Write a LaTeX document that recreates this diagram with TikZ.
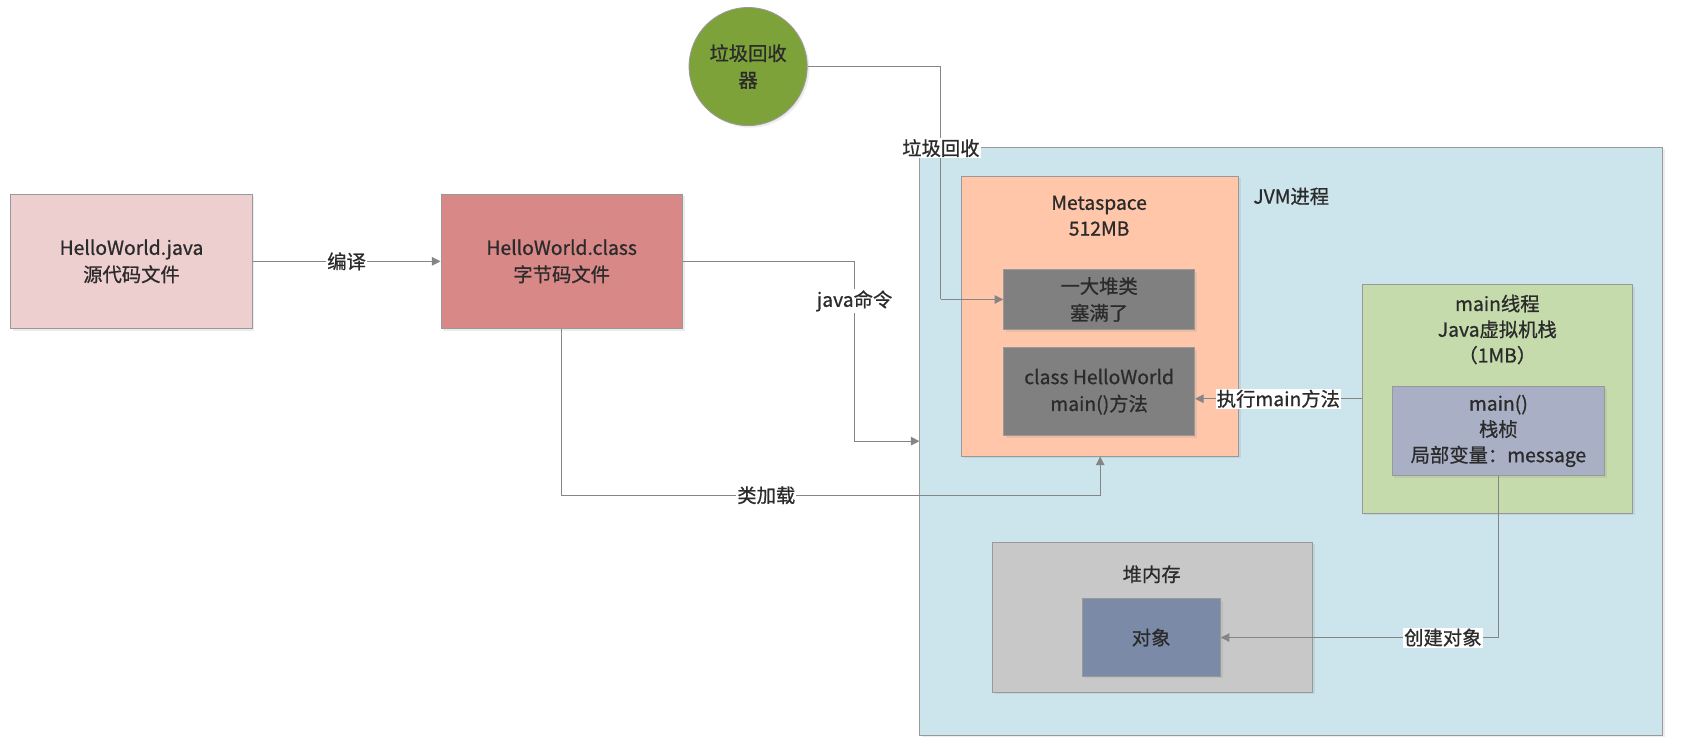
\documentclass[tikz,border=0pt]{standalone}
\usepackage{fontspec}
\setmainfont{Noto Sans CJK SC}[FakeBold=0.8]
\usetikzlibrary{positioning, arrows.meta, shadows}

\definecolor{txt}{HTML}{2B2B2B}
\definecolor{edge}{HTML}{999999}
\definecolor{wire}{HTML}{858585}
\definecolor{javafill}{HTML}{EECFCF}
\definecolor{classfill}{HTML}{D98888}
\definecolor{gcfill}{HTML}{7EA23A}
\definecolor{jvmfill}{HTML}{CCE4EB}
\definecolor{metafill}{HTML}{FFC6AA}
\definecolor{darkfill}{HTML}{808080}
\definecolor{threadfill}{HTML}{C5DBAB}
\definecolor{framefill}{HTML}{A9AFC4}
\definecolor{heapfill}{HTML}{C8C8C8}
\definecolor{objfill}{HTML}{7B8AA6}

\begin{document}
\begin{tikzpicture}[x=1pt, y=-1pt,
  box/.style={draw=edge, line width=0.8pt, rectangle, align=center, text=txt, font=\fontsize{18}{25}\selectfont,
    drop shadow={shadow xshift=2pt, shadow yshift=-2pt, opacity=0.15}},
  title/.style={align=center, text=txt, font=\fontsize{18}{24}\selectfont},
  lbl/.style={fill=white, inner sep=1pt, text=txt, font=\fontsize{18}{24}\selectfont},
  arr/.style={draw=wire, line width=0.9pt, -{Triangle[width=8pt, length=8pt]}},
  wireline/.style={draw=wire, line width=0.9pt}]

  \useasboundingbox (0,0) rectangle (1568,692);

  % Nodes
  \node (java) [box, fill=javafill, minimum width=225, minimum height=125] at (122.5,243.5) {HelloWorld.java\\源代码文件};
  \node (class) [box, fill=classfill, minimum width=225, minimum height=125, right=175pt of java] {HelloWorld.class\\字节码文件};
  \node (gc) [box, circle, fill=gcfill, minimum size=110] at (697,62) {垃圾回收\\器};

  \node (jvm) [box, fill=jvmfill, minimum width=692, minimum height=548] at (1203,411) {};
  \node (jvmtitle) [title] at (1203,183) {JVM进程};

  \node (meta) [box, fill=metafill, minimum width=258, minimum height=261] at (1025,294.5) {};
  \node (metatitle) [title] at (1024,201) {Metaspace\\512MB};
  \node (classes) [box, fill=darkfill, minimum width=178, minimum height=56] at (1024,279) {一大堆类\\塞满了};
  \node (method) [box, fill=darkfill, minimum width=178, minimum height=82] at (1024,365) {class HelloWorld\\main()方法};

  \node (thread) [box, fill=threadfill, minimum width=252, minimum height=213] at (1395,371.5) {};
  \node (threadtitle) [title] at (1395,307) {main线程\\Java虚拟机栈\\（1MB）};
  \node (frame) [box, fill=framefill, minimum width=198, minimum height=83, font=\fontsize{18}{24}\selectfont] at (1396,401.5) {main()\\栈桢\\局部变量：message};

  \node (heap) [box, fill=heapfill, minimum width=298, minimum height=140] at (1074,575) {};
  \node (heaptitle) [title] at (1073,535) {堆内存};
  \node (obj) [box, fill=objfill, minimum width=129, minimum height=72] at (1072.5,594) {对象};

  % Arrows
  \draw[arr] (java) -- node[lbl] {编译} (class);
  \draw[arr] (class.east) -- ++(160,0) |- node[lbl, pos=0.11] {java命令} (jvm.west);
  \draw[arr] (class.south) -- ++(0,155) -| node[lbl, pos=0.19] {类加载} (meta.south);
  \draw[wireline] (gc.east) -| ([xshift=-58pt]classes.west) node[lbl, pos=0.675] {垃圾回收};
  \draw[arr] ([xshift=-58pt]classes.west) -- (classes.west);
  \draw[arr] (thread.west) -- node[lbl] {执行main方法} (thread.west -| method.east);
  \draw[arr] (frame.south) |- node[lbl, pos=0.6] {创建对象} (obj.east);

\end{tikzpicture}
\end{document}
